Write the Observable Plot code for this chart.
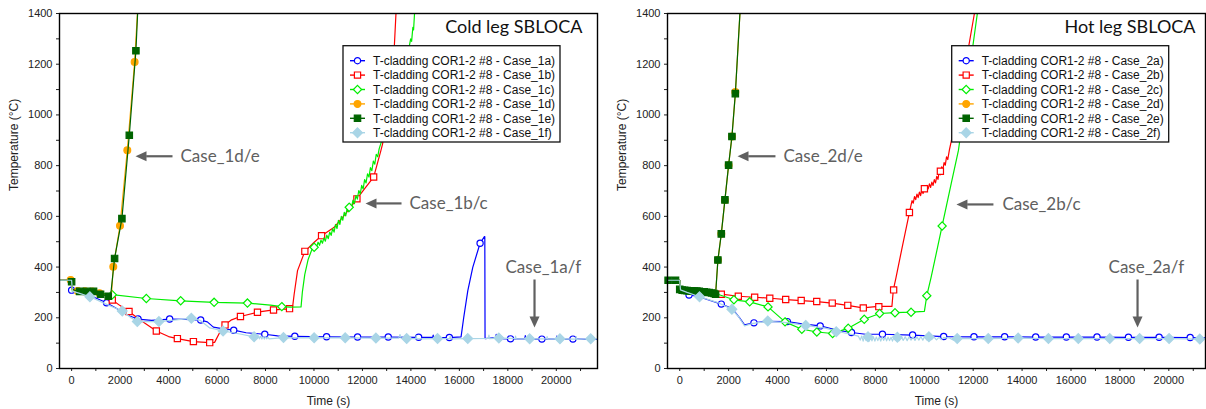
<!DOCTYPE html>
<html><head><meta charset="utf-8">
<script src="https://cdn.jsdelivr.net/npm/d3@7"></script>
<script src="https://cdn.jsdelivr.net/npm/@observablehq/plot@0.6"></script>
<style>
html,body{margin:0;padding:0;background:#fff;}
#wrap{display:flex;width:1206px;height:409px;overflow:hidden;}
</style></head><body><div id="wrap"></div>
<script>
// ---------- tick values ----------
const yTicks = [0,200,400,600,800,1000,1200,1400];
const yMinor = [100,300,500,700,900,1100,1300];
const xTicks = [0,2000,4000,6000,8000,10000,12000,14000,16000,18000,20000];
const xMinor = [1000,3000,5000,7000,9000,11000,13000,15000,17000,19000,21000];

// ---------- legend labels ----------
const labels1 = ["T-cladding COR1-2 #8 - Case_1a)","T-cladding COR1-2 #8 - Case_1b)","T-cladding COR1-2 #8 - Case_1c)","T-cladding COR1-2 #8 - Case_1d)","T-cladding COR1-2 #8 - Case_1e)","T-cladding COR1-2 #8 - Case_1f)"];
const labels2 = ["T-cladding COR1-2 #8 - Case_2a)","T-cladding COR1-2 #8 - Case_2b)","T-cladding COR1-2 #8 - Case_2c)","T-cladding COR1-2 #8 - Case_2d)","T-cladding COR1-2 #8 - Case_2e)","T-cladding COR1-2 #8 - Case_2f)"];
const titles = ["Cold leg SBLOCA","Hot leg SBLOCA"];
const notes1 = ["Case_1d/e","Case_1b/c","Case_1a/f"];
const notes2 = ["Case_2d/e","Case_2b/c","Case_2a/f"];

// ---------- Case 1 (cold leg) : [time s, temperature °C] ----------
const c1aLine = [[-500,348],[0,348],[30,312],[500,296],[1000,278],[1442,259],[2000,229],[2400,207],[2740,195],[3300,190],[4045,195],[4700,194],[5326,191],[5600,184],[5850,163],[6200,157],[6690,151],[7200,141],[7700,137],[7971,135],[8500,129],[9211,127],[10521,125],[11800,124],[13066,124],[14320,123],[14900,123],[14920,132],[14940,122],[15587,122],[16070,125],[16180,201],[16347,306],[16553,399],[16855,494],[17033,520],[17050,520],[17060,118],[17500,122],[17520,135],[17540,118],[18110,117],[18700,117],[18720,130],[18740,116],[19405,116],[20000,116],[20020,128],[20040,115],[20686,116],[21700,115]];
const c1aMarks = [[0,309],[1442,259],[2740,195],[4045,195],[5326,191],[6690,151],[7971,135],[9211,127],[10521,125],[11800,124],[13066,124],[14320,123],[15587,122],[16855,494],[18110,117],[19405,116],[20686,116]];

const c1bLine = [[-500,348],[0,348],[30,312],[500,306],[1000,301],[1400,293],[1678,270],[2000,248],[2368,225],[2800,193],[3496,148],[4000,126],[4364,118],[5025,106],[5698,102],[5900,103],[6100,140],[6331,172],[6600,192],[6967,205],[7669,222],[8331,231],[8992,235],[9115,240],[9183,293],[9322,386],[9624,462],[10000,497],[10314,524],[10835,557],[11300,610],[11773,669],[12100,710],[12463,755],[12764,860],[12835,887],[13318,1273],[13384,1400]];
const c1bMarks = [[1678,270],[2368,225],[3496,148],[4364,118],[5025,106],[5698,102],[6331,172],[6967,205],[7669,222],[8331,231],[8992,236],[9624,462],[10314,524],[11773,669],[12463,755]];

const c1cLine = [[-500,348],[0,348],[30,305],[500,302],[1000,298],[1678,291],[3083,276],[4500,267],[5880,261],[7256,258],[8200,250],[8673,244],[9000,242],[9467,243],[9520,300],[9620,370],[9760,430],[9942,476],[10008,478],[10050,490],[10110,480],[10170,498],[10230,486],[10290,506],[10350,494],[10410,515],[10470,502],[10530,526],[10590,512],[10650,538],[10710,525],[10770,552],[10830,538],[10890,568],[10950,552],[11010,584],[11070,568],[11130,600],[11190,585],[11250,616],[11310,602],[11370,632],[11430,618],[11490,648],[11550,634],[11610,664],[11670,650],[11730,682],[11790,668],[11850,702],[11910,688],[11970,722],[12030,708],[12090,745],[12150,732],[12210,768],[12270,755],[12330,792],[12390,780],[12450,818],[12510,806],[12570,845],[12630,835],[12690,866],[12765,889],[13938,1273],[13990,1300],[14030,1290],[14080,1345],[14110,1335],[14150,1400]];
const c1cMarks = [[1678,291],[3083,276],[4500,267],[5880,261],[7256,258],[8673,244],[10008,478],[11455,636]];

const c1dLine = [[-500,348],[0,348],[30,310],[200,306],[1000,304],[1200,295],[1512,286],[1607,285],[1650,300],[1719,401],[1996,563],[2298,861],[2600,1209],[2715,1400]];
const c1dMarks = [[-40,349],[250,306],[550,305],[850,304],[1150,297],[1719,401],[1996,563],[2298,861],[2600,1209]];

const c1eLine = [[-500,348],[0,348],[30,312],[200,306],[1000,304],[1194,293],[1512,285],[1607,285],[1773,434],[2075,591],[2380,920],[2653,1253],[2723,1400]];
const c1eMarks = [[0,342],[330,304],[620,304],[905,304],[1194,293],[1512,285],[1773,434],[2075,591],[2380,920],[2653,1253]];

const c1fLine = [[-500,348],[0,348],[30,305],[300,297],[754,283],[1400,255],[2090,227],[2450,200],[2710,185],[3603,185],[4300,192],[4941,198],[5300,190],[5700,160],[6250,148],[7000,135],[7530,125],[7600,131],[7650,118],[7700,128],[7750,117],[7800,127],[7850,116],[7900,126],[7950,116],[8000,125],[8050,117],[8100,124],[8150,117],[8743,122],[10008,121],[11290,121],[12557,120],[13500,120],[13550,134],[13600,119],[13826,118],[14200,118],[14220,130],[14240,117],[15100,118],[15600,118],[15620,128],[15640,117],[16347,118],[17200,119],[17220,132],[17240,118],[17630,120],[18300,118],[18320,128],[18340,117],[18900,117],[19600,117],[19620,126],[19640,116],[20150,117],[20800,116],[20820,126],[20840,115],[21420,117],[21700,117]];
const c1fMarks = [[754,283],[2090,227],[2710,185],[3603,185],[4941,198],[6250,148],[7530,125],[8743,122],[10008,121],[11290,121],[12557,120],[13826,118],[15100,118],[16347,118],[17630,120],[18900,117],[20150,117],[21420,117]];

// ---------- Case 2 (hot leg) ----------
const c2aLine = [[-500,348],[0,348],[30,310],[380,292],[1000,276],[1700,254],[2150,236],[2450,200],[2650,172],[3035,180],[3500,186],[4401,185],[5000,176],[5744,168],[6500,150],[7025,142],[7600,135],[8290,135],[9522,132],[10794,126],[12032,125],[13286,125],[14556,124],[15810,124],[17064,124],[18349,123],[19603,123],[20873,122],[21500,121]];
const c2aMarks = [[380,290],[1700,254],[3035,180],[4401,185],[5744,168],[7025,142],[8290,135],[9522,132],[10794,126],[12032,125],[13286,125],[14556,124],[15810,124],[17064,124],[18349,123],[19603,123],[20873,122]];

const c2bLine = [[-500,348],[0,348],[30,310],[500,305],[1000,302],[1466,297],[1700,293],[2396,285],[3064,281],[3723,277],[4362,272],[4978,268],[5612,264],[6230,258],[6862,249],[7487,239],[8116,245],[8677,245],[8735,310],[8846,359],[9100,480],[9392,615],[9450,640],[9500,662],[9550,652],[9600,678],[9650,666],[9700,688],[9750,674],[9800,696],[9850,682],[9900,704],[9950,690],[10005,712],[10060,700],[10110,722],[10160,708],[10210,728],[10260,714],[10310,735],[10360,722],[10410,745],[10460,732],[10510,758],[10560,746],[10610,775],[10660,764],[10710,795],[10760,784],[10810,812],[10860,802],[10910,835],[10960,824],[11028,862],[11100,895],[11168,926],[11600,1150],[12050,1400]];
const c2bMarks = [[1700,293],[2396,285],[3064,281],[3682,277],[4333,272],[4967,268],[5602,264],[6237,258],[6872,249],[7506,239],[8141,244],[8747,310],[9392,615],[10005,709],[10659,778]];

const c2cLine = [[-500,348],[0,348],[30,310],[500,305],[1000,302],[1466,296],[1800,285],[2216,271],[2860,263],[3610,243],[4306,184],[4992,155],[5606,144],[6252,138],[6890,159],[7546,194],[8175,217],[8803,220],[9460,222],[10005,225],[10103,287],[10279,359],[10730,562],[11099,728],[11397,860],[12170,1400]];
const c2cMarks = [[2216,271],[2860,263],[3610,243],[4306,184],[4992,155],[5606,144],[6252,138],[6890,159],[7546,194],[8175,217],[8803,220],[9460,222],[10103,287],[10730,562]];

const c2dLine = [[-500,348],[0,348],[30,312],[600,305],[1000,303],[1300,298],[1466,292],[1561,428],[1700,531],[1848,665],[1999,802],[2135,915],[2274,1084],[2462,1400]];
const c2dMarks = [[1561,428],[1700,531],[1848,665],[1999,802],[2135,915],[2274,1090]];

const c2eLine = [[-500,348],[0,348],[30,312],[600,305],[1000,303],[1300,298],[1466,292],[1561,428],[1700,531],[1848,665],[1999,802],[2135,915],[2274,1084],[2462,1400]];
const c2eMarks = [[-475,348],[-172,348],[0,312],[100,309],[200,308],[300,307],[400,306],[500,306],[600,305],[700,305],[800,304],[900,303],[1000,303],[1100,301],[1200,300],[1300,298],[1400,296],[1466,293],[1561,428],[1700,531],[1848,665],[1999,802],[2135,915],[2274,1084]];

const c2fLine = [[-500,348],[0,348],[30,310],[300,300],[810,283],[1500,262],[2132,234],[2400,205],[2650,168],[3000,178],[3600,186],[4400,181],[5150,170],[6000,158],[6500,145],[7000,135],[7300,128],[7380,112],[7440,128],[7500,108],[7560,127],[7620,110],[7680,126],[7740,107],[7800,125],[7860,109],[7920,125],[7980,108],[8040,124],[8100,110],[8160,124],[8220,108],[8280,124],[8340,111],[8400,124],[8460,109],[8520,124],[8580,110],[8640,123],[8700,108],[8760,123],[8820,111],[8900,123],[8980,110],[9060,124],[9140,111],[9220,125],[9300,110],[9380,125],[9460,112],[9540,125],[9620,111],[9700,125],[9780,112],[9860,126],[9940,112],[10020,126],[10100,113],[10190,125],[10300,114],[10400,124],[10500,113],[10600,123],[10700,114],[10800,122],[11000,121],[11200,112],[11250,121],[11347,118],[12617,118],[13839,120],[15077,118],[16299,118],[17585,118],[18806,118],[20012,118],[21266,116],[21500,116]];
const c2fMarks = [[810,283],[2132,234],[3600,187],[5150,170],[6400,145],[7700,125],[8900,123],[10190,125],[11347,118],[12617,118],[13839,120],[15077,118],[16299,118],[17585,118],[18806,118],[20012,118],[21266,116]];

// ---------- styling (not data) ----------
const seriesStyle = [
  {color:"#0000ff", symbol:"circle",   fill:"white",   r:3.1},
  {color:"#ff0000", symbol:"square",   fill:"white",   r:3.5},
  {color:"#00ee00", symbol:"diamond2", fill:"white",   r:3.7},
  {color:"#ffa500", symbol:"circle",   fill:"#ffa500", r:3.4},
  {color:"#006400", symbol:"square",   fill:"#006400", r:3.6},
  {color:"#a9d5e6", symbol:"diamond2", fill:"#a9d5e6", r:4.4}
];
const d3Sym = {circle: d3.symbolCircle, square: d3.symbolSquare, diamond2: d3.symbolDiamond2};
const headLeft = {draw(ctx){ ctx.moveTo(0,0); ctx.lineTo(11,-5); ctx.lineTo(11,5); ctx.closePath(); }};
const headDown = {draw(ctx){ ctx.moveTo(0,0); ctx.lineTo(-5,-11); ctx.lineTo(5,-11); ctx.closePath(); }};
const grey = "#606060";

function makeChart(o) {
  const marks = [
    Plot.axisY(yTicks, {tickSize:3, tickPadding:4, tickFormat:d=>String(d), label:null}),
    Plot.axisY(yMinor, {tickSize:3, tickFormat:()=>"", label:null}),
    Plot.axisX(xTicks, {tickSize:3, tickPadding:5, tickFormat:d=>String(d), label:null}),
    Plot.axisX(xMinor, {tickSize:3, tickFormat:()=>"", label:null}),
  ];
  seriesStyle.forEach((s,i)=>{
    marks.push(Plot.line(o.lines[i], {x:d=>d[0], y:d=>d[1], stroke:s.color, strokeWidth:1.2, clip:true}));
    marks.push(Plot.dot(o.dots[i], {x:d=>d[0], y:d=>d[1], symbol:s.symbol, r:s.r, fill:s.fill, stroke:s.color, strokeWidth:1.2}));
  });
  const A = o.ann;
  marks.push(Plot.link(A.h, {x1:d=>d.x1, x2:d=>d.x2+440, y1:d=>d.y, y2:d=>d.y, stroke:grey, strokeWidth:2.2}));
  marks.push(Plot.dot(A.h, {x:d=>d.x2, y:d=>d.y, symbol:headLeft, fill:grey, stroke:"none"}));
  marks.push(Plot.link(A.v, {x1:d=>d.x, x2:d=>d.x, y1:d=>d.y1, y2:d=>d.y2+40, stroke:grey, strokeWidth:2.2}));
  marks.push(Plot.dot(A.v, {x:d=>d.x, y:d=>d.y2, symbol:headDown, fill:grey, stroke:"none"}));
  marks.push(Plot.text(A.t, {x:d=>d.x, y:d=>d.y, text:d=>d.label, textAnchor:"start", lineAnchor:"middle", fontSize:17, fontFamily:"Lato", fill:grey}));
  marks.push(Plot.text([o.title], {text:d=>d, frameAnchor:"top-right", dx:o.titleDx, dy:14, textAnchor:"end", lineAnchor:"middle", fontSize:18, fontFamily:"Lato", fill:"#111"}));
  marks.push(Plot.text(["Temperature (°C)"], {text:d=>d, frameAnchor:"left", dx:-45.5, rotate:-90, fontSize:12, lineAnchor:"middle"}));
  marks.push(Plot.text(["Time (s)"], {text:d=>d, frameAnchor:"bottom", dy:33, fontSize:12, lineAnchor:"middle"}));
  marks.push(Plot.frame({stroke:"#000", strokeWidth:1.4}));

  const svg = Plot.plot({
    width:603, height:409,
    marginLeft:o.ml, marginRight:o.mr, marginTop:13, marginBottom:41,
    x:{domain:o.xDomain, label:null},
    y:{domain:[0,1400], label:null},
    style:{fontFamily:"'Liberation Sans', Arial, sans-serif", fontSize:"11px", color:"#222", background:"white", overflow:"visible"},
    marks
  });
  const g = d3.select(svg).append("g").attr("text-anchor","start");
  const L = o.legendX, T = 45.7;
  g.append("rect").attr("x",L).attr("y",T).attr("width",217).attr("height",96.3)
    .attr("fill","white").attr("stroke","#111").attr("stroke-width",1.3);
  seriesStyle.forEach((s,i)=>{
    const cy = T + 15 + i*14.4;
    g.append("line").attr("x1",L+7).attr("x2",L+22).attr("y1",cy).attr("y2",cy)
      .attr("stroke",s.color).attr("stroke-width",1.4);
    g.append("path").attr("transform",`translate(${L+14.5},${cy})`)
      .attr("d", d3.symbol(d3Sym[s.symbol], Math.PI*s.r*s.r)())
      .attr("fill",s.fill).attr("stroke",s.color).attr("stroke-width",1.2);
    g.append("text").attr("x",L+30).attr("y",cy).attr("dy","0.36em")
      .attr("text-anchor","start").attr("font-size",12).attr("fill","#111").text(o.labels[i]);
  });
  return svg;
}

const wrap = document.getElementById("wrap");
wrap.appendChild(makeChart({
  xDomain:[-500,21700], ml:59, mr:6, legendX:343, titleDx:-15,
  title:titles[0], labels:labels1,
  lines:[c1aLine,c1bLine,c1cLine,c1dLine,c1eLine,c1fLine],
  dots:[c1aMarks,c1bMarks,c1cMarks,c1dMarks,c1eMarks,c1fMarks],
  ann:{
    t:[{x:4493,y:837,label:notes1[0]},{x:13942,y:651,label:notes1[1]},{x:17903,y:398,label:notes1[2]}],
    h:[{x1:4163,x2:2637,y:837},{x1:13613,x2:12127,y:651}],
    v:[{x:19101,y1:351,y2:162}]
  }
}));
wrap.appendChild(makeChart({
  xDomain:[-500,21500], ml:64, mr:1, legendX:348.7, titleDx:-10,
  title:titles[1], labels:labels2,
  lines:[c2aLine,c2bLine,c2cLine,c2dLine,c2eLine,c2fLine],
  dots:[c2aMarks,c2bMarks,c2cMarks,c2dMarks,c2eMarks,c2fMarks],
  ann:{
    t:[{x:4243,y:837,label:notes2[0]},{x:13196,y:647,label:notes2[1]},{x:17535,y:398,label:notes2[2]}],
    h:[{x1:3915,x2:2363,y:837},{x1:12828,x2:11315,y:647}],
    v:[{x:18721,y1:351,y2:162}]
  }
}));
</script>
</body></html>
